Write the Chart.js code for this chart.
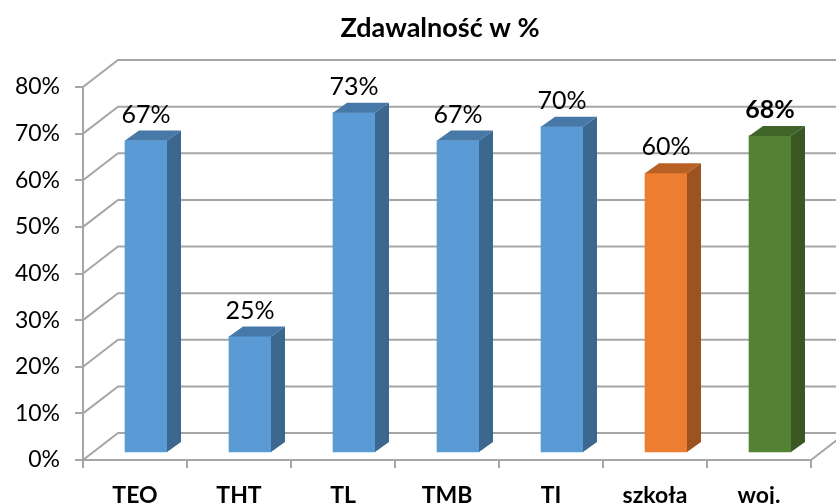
<!DOCTYPE html>
<html>
<head>
<meta charset="utf-8">
<style>
  html, body { margin: 0; padding: 0; background: #fff; }
  canvas { display: block; }
</style>
<script src="https://cdn.jsdelivr.net/npm/chart.js@4"></script>
</head>
<body>
<canvas id="chart" width="836" height="504"></canvas>
<script>
const categories = ['TEO', 'THT', 'TL', 'TMB', 'TI', 'szkoła', 'woj.'];
const passRates = [67, 25, 73, 67, 70, 60, 68];
const frontColors = ['#5B9BD5', '#5B9BD5', '#5B9BD5', '#5B9BD5', '#5B9BD5', '#ED7D31', '#548235'];
const topColors = ['#4679A8', '#4679A8', '#4679A8', '#4679A8', '#4679A8', '#B86125', '#416529'];
const sideColors = ['#3C678E', '#3C678E', '#3C678E', '#3C678E', '#3C678E', '#9C5320', '#385723'];
const boldLabels = [false, false, false, false, false, false, true];

const FONT = 'Lato, Carlito, sans-serif';
const GRID = '#A6A6A6';

// fake 3D: wall sits behind the axis plane, bars halfway in between
const WALL_DX = 35, WALL_DY = -27;
const BAR_DX = 11, BAR_DY = -7;
const TOP_DX = 14, TOP_DY = -10;

function poly(ctx, color, pts) {
    ctx.fillStyle = color;
    ctx.beginPath();
    pts.forEach((p, i) => i ? ctx.lineTo(p[0], p[1]) : ctx.moveTo(p[0], p[1]));
    ctx.closePath();
    ctx.fill();
}

// title is centred over the plot + right margin, not over the whole canvas
const titleShift = {
    id: 'titleShift',
    afterLayout(chart) {
        chart.titleBlock.left = 44;
    }
};

const wallPlugin = {
    id: 'wall',
    beforeDatasetsDraw(chart) {
        const { ctx, chartArea, scales } = chart;
        ctx.save();
        ctx.strokeStyle = GRID;
        ctx.lineWidth = 2;
        scales.y.ticks.forEach((t) => {
            const y = scales.y.getPixelForValue(t.value);
            ctx.beginPath();
            ctx.moveTo(chartArea.left, y);
            ctx.lineTo(chartArea.left + WALL_DX, y + WALL_DY);
            ctx.lineTo(chartArea.right + WALL_DX, y + WALL_DY);
            ctx.stroke();
        });
        // floor edge on the right
        const y0 = scales.y.getPixelForValue(0);
        ctx.beginPath();
        ctx.moveTo(chartArea.right, y0);
        ctx.lineTo(chartArea.right + WALL_DX, y0 + WALL_DY);
        ctx.stroke();
        ctx.restore();
    }
};

const depthPlugin = {
    id: 'depth',
    beforeDatasetsDraw(chart) {
        chart.ctx.save();
        chart.ctx.translate(BAR_DX, BAR_DY);
    },
    afterDatasetsDraw(chart) {
        const ctx = chart.ctx;
        chart.getDatasetMeta(0).data.forEach((bar, i) => {
            const half = bar.width / 2;
            const l = bar.x - half, r = bar.x + half;
            poly(ctx, topColors[i], [[l, bar.y], [l + TOP_DX, bar.y + TOP_DY], [r + TOP_DX, bar.y + TOP_DY], [r, bar.y]]);
            poly(ctx, sideColors[i], [[r, bar.y], [r + TOP_DX, bar.y + TOP_DY], [r + TOP_DX, bar.base + TOP_DY], [r, bar.base]]);

            ctx.fillStyle = '#000';
            ctx.textAlign = 'center';
            ctx.textBaseline = 'middle';
            ctx.font = (boldLabels[i] ? 'bold ' : '') + '25px ' + FONT;
            ctx.fillText(passRates[i] + '%', bar.x, bar.y - 26);
        });
        ctx.restore();
    }
};

new Chart(document.getElementById('chart'), {
    type: 'bar',
    data: {
        labels: categories,
        datasets: [{
            data: passRates,
            backgroundColor: frontColors,
            barThickness: 42,
            clip: false
        }]
    },
    options: {
        responsive: false,
        animation: false,
        layout: { padding: { left: 0, right: 0, top: 0, bottom: 0 } },
        plugins: {
            legend: { display: false },
            tooltip: { enabled: false },
            title: {
                display: true,
                text: 'Zdawalność w %',
                color: '#000',
                font: { family: FONT, size: 27, weight: 'bold' },
                padding: { top: 12, bottom: 42.6 }
            }
        },
        scales: {
            x: {
                afterFit(scale) {
                    scale.height = 44;
                    scale.paddingRight = 25;
                    scale.paddingLeft = 0;
                },
                grid: { drawOnChartArea: false, color: GRID, lineWidth: 2, tickLength: 8 },
                border: { color: GRID, width: 2 },
                ticks: {
                    color: '#000',
                    padding: 14,
                    maxRotation: 0,
                    autoSkip: false,
                    font: { family: FONT, size: 23, weight: 'bold' }
                }
            },
            y: {
                min: 0,
                max: 80,
                afterFit(scale) { scale.width = 83; },
                grid: { drawOnChartArea: false, color: GRID, lineWidth: 2, tickLength: 8 },
                border: { color: GRID, width: 2 },
                ticks: {
                    stepSize: 10,
                    color: '#000',
                    padding: 15,
                    font: { family: FONT, size: 23 },
                    callback: (v) => v + '%'
                }
            }
        }
    },
    plugins: [titleShift, wallPlugin, depthPlugin]
});
</script>
</body>
</html>
